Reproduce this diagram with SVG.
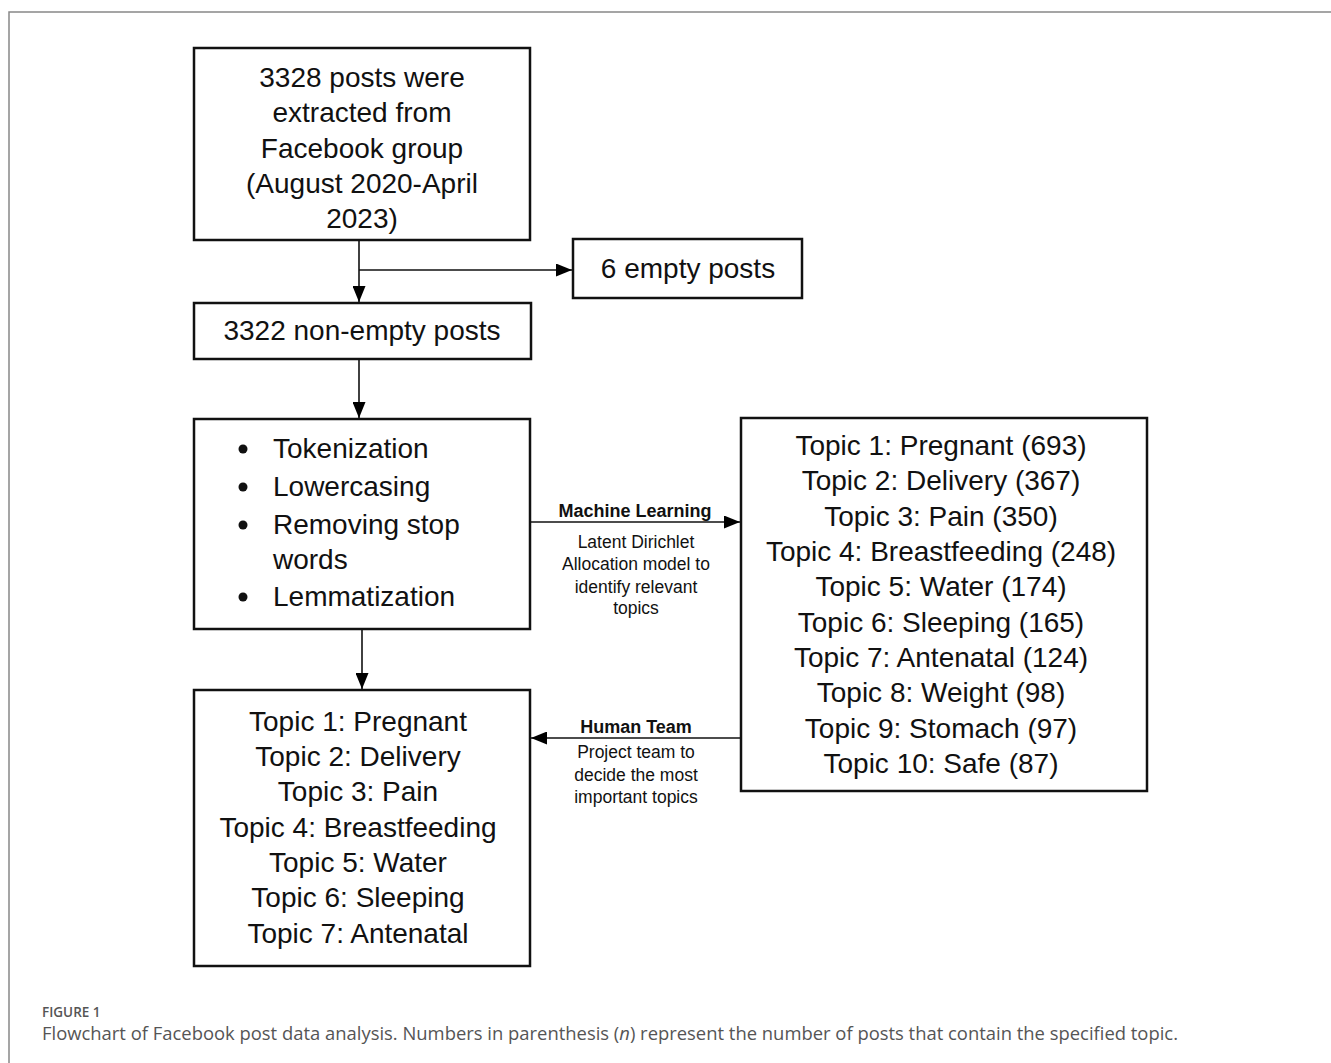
<svg xmlns="http://www.w3.org/2000/svg" width="1331" height="1063" viewBox="0 0 1331 1063">
<defs>
<marker id="ah" viewBox="0 0 16 13" refX="16" refY="6.5" markerWidth="16" markerHeight="13" markerUnits="userSpaceOnUse" orient="auto">
<path d="M0,0 L16,6.5 L0,13 z" fill="#000"/>
</marker>
<style>
.box{fill:#fff;stroke:#111;stroke-width:2.5}
.t{font-family:"Liberation Sans",Arial,sans-serif;font-size:28px;fill:#111;text-anchor:middle}
.tl{font-family:"Liberation Sans",Arial,sans-serif;font-size:28px;fill:#111}
.lab{font-family:"Liberation Sans",Arial,sans-serif;font-size:17.5px;fill:#111;text-anchor:middle}
.labb{font-family:"Liberation Sans",Arial,sans-serif;font-size:18px;font-weight:bold;fill:#111;text-anchor:middle}
.con{fill:none;stroke:#111;stroke-width:1.6}
.cap{font-family:"Open Sans",sans-serif;fill:#555}
</style>
</defs>
<rect width="1331" height="1063" fill="#fff"/>
<path d="M9,1063 V12 H1331" fill="none" stroke="#888" stroke-width="1.5"/>

<g id="connectors">
<path class="con" d="M359,241 V302" marker-end="url(#ah)"/>
<path class="con" d="M359,270 H572" marker-end="url(#ah)"/>
<path class="con" d="M359,360 V418" marker-end="url(#ah)"/>
<path class="con" d="M362,630 V689" marker-end="url(#ah)"/>
<path class="con" d="M531,522 H740" marker-end="url(#ah)"/>
<path class="con" d="M741,738 H531" marker-end="url(#ah)"/>
<text class="labb" x="635" y="517">Machine Learning</text>
<text class="lab" x="636" y="548">Latent Dirichlet</text>
<text class="lab" x="636" y="570">Allocation model to</text>
<text class="lab" x="636" y="593">identify relevant</text>
<text class="lab" x="636" y="614">topics</text>
<text class="labb" x="636" y="733">Human Team</text>
<text class="lab" x="636" y="758">Project team to</text>
<text class="lab" x="636" y="781">decide the most</text>
<text class="lab" x="636" y="803">important topics</text>
</g>

<g id="n1">
<rect class="box" x="194" y="48" width="336" height="192"/>
<text class="t" x="362" y="87">3328 posts were</text>
<text class="t" x="362" y="122">extracted from</text>
<text class="t" x="362" y="158">Facebook group</text>
<text class="t" x="362" y="193">(August 2020-April</text>
<text class="t" x="362" y="228">2023)</text>
</g>

<g id="n2">
<rect class="box" x="573" y="239" width="229" height="59"/>
<text class="t" x="688" y="278">6 empty posts</text>
</g>

<g id="n3">
<rect class="box" x="194" y="303" width="337" height="56"/>
<text class="t" x="362" y="340">3322 non-empty posts</text>
</g>

<g id="n4">
<rect class="box" x="194" y="419" width="336" height="210"/>
<circle cx="243" cy="449" r="4.5" fill="#111"/>
<circle cx="243" cy="487" r="4.5" fill="#111"/>
<circle cx="243" cy="525" r="4.5" fill="#111"/>
<circle cx="243" cy="597" r="4.5" fill="#111"/>
<text class="tl" x="273" y="458">Tokenization</text>
<text class="tl" x="273" y="496">Lowercasing</text>
<text class="tl" x="273" y="534">Removing stop</text>
<text class="tl" x="273" y="569">words</text>
<text class="tl" x="273" y="606">Lemmatization</text>
</g>

<g id="n5">
<rect class="box" x="741" y="418" width="406" height="373"/>
<text class="t" x="941" y="455">Topic 1: Pregnant (693)</text>
<text class="t" x="941" y="490">Topic 2: Delivery (367)</text>
<text class="t" x="941" y="526">Topic 3: Pain (350)</text>
<text class="t" x="941" y="561">Topic 4: Breastfeeding (248)</text>
<text class="t" x="941" y="596">Topic 5: Water (174)</text>
<text class="t" x="941" y="632">Topic 6: Sleeping (165)</text>
<text class="t" x="941" y="667">Topic 7: Antenatal (124)</text>
<text class="t" x="941" y="702">Topic 8: Weight (98)</text>
<text class="t" x="941" y="738">Topic 9: Stomach (97)</text>
<text class="t" x="941" y="773">Topic 10: Safe (87)</text>
</g>

<g id="n6">
<rect class="box" x="194" y="690" width="336" height="276"/>
<text class="t" x="358" y="731">Topic 1: Pregnant</text>
<text class="t" x="358" y="766">Topic 2: Delivery</text>
<text class="t" x="358" y="801">Topic 3: Pain</text>
<text class="t" x="358" y="837">Topic 4: Breastfeeding</text>
<text class="t" x="358" y="872">Topic 5: Water</text>
<text class="t" x="358" y="907">Topic 6: Sleeping</text>
<text class="t" x="358" y="943">Topic 7: Antenatal</text>
</g>

<g id="caption">
<text class="cap" x="42" y="1017" font-size="13.5" font-weight="600" fill="#666">FIGURE 1</text>
<text class="cap" x="42" y="1040" font-size="17.5" textLength="1136" lengthAdjust="spacingAndGlyphs">Flowchart of Facebook post data analysis. Numbers in parenthesis (<tspan font-style="italic">n</tspan>) represent the number of posts that contain the specified topic.</text>
</g>
</svg>
